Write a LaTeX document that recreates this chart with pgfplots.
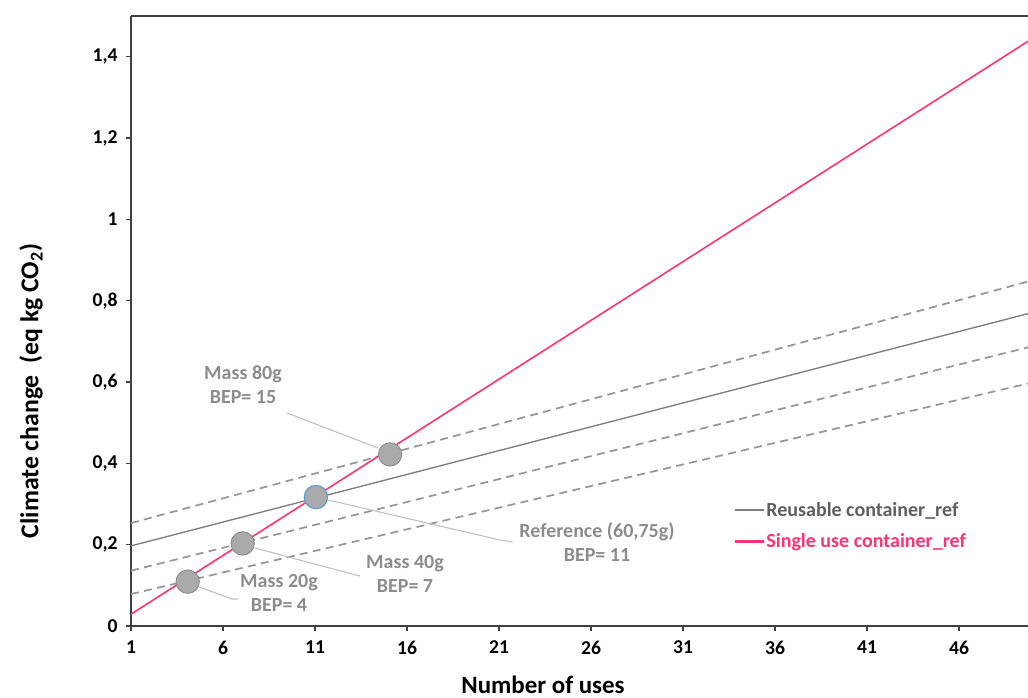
\documentclass[border=0pt]{standalone}
\usepackage{pgfplots}
\pgfplotsset{compat=1.18}
\usepackage{fontspec}
\setmainfont{Carlito}
\definecolor{pinkline}{RGB}{255,51,119}
\definecolor{reusegray}{RGB}{125,125,125}
\definecolor{dashgray}{RGB}{150,150,150}
\definecolor{annot}{RGB}{140,140,140}
\definecolor{axisgray}{RGB}{64,64,64}
\definecolor{legtext}{RGB}{95,95,95}
\definecolor{leader}{RGB}{190,190,190}
\definecolor{circfill}{RGB}{170,170,170}
\definecolor{circedge}{RGB}{135,135,135}
\definecolor{refedge}{RGB}{91,155,213}
\pgfplotstableread{
x y
1 0.029
50 1.445
}\single
\pgfplotstableread{
x y
1 0.197
50 0.771
}\reuse
\pgfplotstableread{
x y
1 0.253
50 0.850
}\mEighty
\pgfplotstableread{
x y
1 0.136
50 0.688
}\mForty
\pgfplotstableread{
x y
1 0.0785
50 0.599
}\mTwenty
\begin{document}
\begin{tikzpicture}
\useasboundingbox (0,0) rectangle (771pt,523.5pt);
\begin{axis}[
  at={(98.25pt,54pt)}, anchor=south west,
  scale only axis, width=672.75pt, height=457.5pt,
  xmin=1, xmax=49.75, ymin=0, ymax=1.5,
  axis lines=left,
  axis line style={-, draw=axisgray, line width=1.6pt},
  xtick={1,6,...,46}, ytick={0,0.2,0.4,0.6,0.8,1,1.2,1.4},
  tick align=outside, major tick length=3.5pt,
  tick style={axisgray, line width=0.9pt},
  /pgf/number format/use comma,
  /pgf/number format/assume math mode=true,
  ticklabel style={font=\bfseries\fontsize{14.7}{16}\selectfont, text=black},
  yticklabel style={xshift=-3pt},
  xticklabel style={yshift=-4pt},
  legend style={draw=none, fill=none, at={(0.667,0.21)}, anchor=north west,
    font=\bfseries\fontsize{15}{17}\selectfont, row sep=9.5pt,
    nodes={inner sep=1pt}},
  legend cell align=left,
  legend image code/.code={\draw[#1] (0pt,0pt) -- (22pt,0pt);},
]
\addlegendimage{color=reusegray, line width=1.2pt}
\addlegendentry[text=legtext]{Reusable container\_ref}
\addlegendimage{color=pinkline, line width=1.6pt}
\addlegendentry[text=pinkline]{Single use container\_ref}
\addplot[dashgray, line width=1.3pt, dash pattern=on 6pt off 4pt, forget plot] table {\mEighty};
\addplot[dashgray, line width=1.3pt, dash pattern=on 6pt off 4pt, forget plot] table {\mForty};
\addplot[dashgray, line width=1.3pt, dash pattern=on 6pt off 4pt, forget plot] table {\mTwenty};
\addplot[reusegray, line width=1pt, forget plot] table {\reuse};
\addplot[pinkline, line width=1.2pt, forget plot] table {\single};
\addplot[only marks, mark=*, mark size=8.8pt, mark options={fill=circfill, draw=circedge, line width=0.6pt}, forget plot]
  coordinates {(4.08,0.109) (7.07,0.203) (15.08,0.422)};
\addplot[only marks, mark=*, mark size=8.8pt, mark options={fill=circfill, draw=refedge, line width=0.8pt}, forget plot]
  coordinates {(11.05,0.317)};
\draw[axisgray, line width=1.6pt] (rel axis cs:0,1) -- (rel axis cs:1,1);
\end{axis}
\begin{scope}[x=0.75pt, y=-0.75pt, yshift=523.5pt]
  \draw[leader, line width=0.8pt] (287,413) -- (378,448);
  \draw[leader, line width=0.8pt] (328,500) -- (500,540) -- (513,542);
  \draw[leader, line width=0.8pt] (255,548) -- (352,574) -- (360,576);
  \draw[leader, line width=0.8pt] (199,587) -- (232,599) -- (238,599);
  \tikzset{ann/.style={text=annot, font=\bfseries\fontsize{15}{18}\selectfont, align=center, inner sep=0pt}}
  \node[ann] at (243,385) {Mass 80g\\BEP= 15};
  \node[ann] at (405,574) {Mass 40g\\BEP= 7};
  \node[ann] at (279,593) {Mass 20g\\BEP= 4};
  \node[ann] at (597,542) {Reference (60,75g)\\BEP= 11};
  \node[font=\bfseries\fontsize{18.7}{20}\selectfont] at (543,685) {Number of uses};
  \node[font=\bfseries\fontsize{19.3}{21}\selectfont, rotate=90] at (31,391) {Climate change\ \ (eq kg CO\textsubscript{2})};
\end{scope}
\end{tikzpicture}
\end{document}
